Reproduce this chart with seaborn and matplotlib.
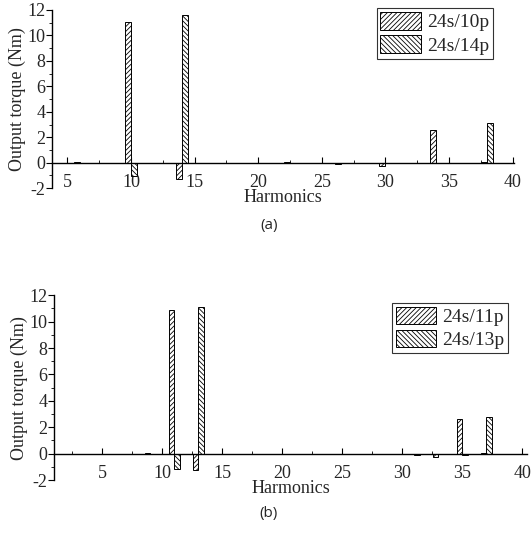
import pandas as pd
import seaborn as sns
import matplotlib.pyplot as plt
import matplotlib.patches as mpatches
from matplotlib.ticker import MultipleLocator

# Harmonic torque data
HARM_A = [6, 10, 14, 18, 22, 26, 30, 34, 38]
TORQUE_10P = [0.02, 11.07, -1.3, -0.05, -0.05, 0.0, -0.25, 2.6, 0.06]
TORQUE_14P = [-0.02, -1.05, 11.6, -0.05, 0.05, -0.1, -0.05, -0.05, 3.1]

HARM_B = [1, 3, 5, 7, 9, 11, 13, 15, 17, 19, 21, 23, 25, 27, 29, 31, 33, 35, 37, 39]
TORQUE_11P = [0.0, 0.0, 0.0, 0.0, 0.02, 10.85, -1.2, 0.0, 0.0, 0.0,
              0.0, 0.0, 0.0, 0.0, 0.0, 0.0, -0.25, 2.65, 0.03, 0.0]
TORQUE_13P = [0.0, 0.0, 0.0, 0.0, 0.0, -1.15, 11.08, -0.05, 0.0, 0.0,
              0.0, 0.0, 0.0, 0.0, 0.0, -0.1, 0.0, -0.1, 2.75, -0.05]

LABELS_A = ['24s/10p', '24s/14p']
LABELS_B = ['24s/11p', '24s/13p']
HATCHES = ['///////', '\\\\\\\\\\\\\\']

sns.set_style('ticks')
plt.rcParams['font.family'] = 'serif'
plt.rcParams['font.serif'] = ['Liberation Serif']
plt.rcParams['axes.unicode_minus'] = False
plt.rcParams['hatch.linewidth'] = 0.6
plt.rcParams['font.size'] = 13


def make_frame(harm, a, b, labels):
    rows = []
    for h, v in zip(harm, a):
        rows.append({'Harmonics': h, 'series': labels[0], 'torque': v})
    for h, v in zip(harm, b):
        rows.append({'Harmonics': h, 'series': labels[1], 'torque': v})
    return pd.DataFrame(rows)


def draw(ax, df, labels, width, xlim, legend_anchor, caption, cap_y):
    sns.barplot(data=df, x='Harmonics', y='torque', hue='series', hue_order=labels,
                native_scale=True, width=width, errorbar=None, ax=ax,
                legend=False)
    for cont, hatch in zip(ax.containers, HATCHES):
        for bar in cont:
            bar.set_facecolor('white')
            bar.set_edgecolor('black')
            bar.set_linewidth(0.7)
            bar.set_hatch(hatch)
    ax.set_xlim(*xlim)
    ax.set_ylim(-2, 12)
    ax.spines['top'].set_visible(False)
    ax.spines['right'].set_visible(False)
    ax.spines['bottom'].set_position(('data', 0))
    for s in ['left', 'bottom']:
        ax.spines[s].set_color('black')
        ax.spines[s].set_linewidth(1.0)
    ax.xaxis.set_major_locator(MultipleLocator(5))
    ax.xaxis.set_minor_locator(MultipleLocator(2.5))
    ax.yaxis.set_major_locator(MultipleLocator(2))
    ax.yaxis.set_minor_locator(MultipleLocator(1))
    ax.tick_params(axis='x', which='major', direction='in', length=4, pad=8,
                   labelsize=13, color='black')
    ax.tick_params(axis='x', which='minor', direction='in', length=2.5, color='black')
    ax.tick_params(axis='y', which='major', direction='out', length=4, pad=1,
                   labelsize=13, color='black')
    ax.tick_params(axis='y', which='minor', direction='out', length=2.5, color='black')
    ax.set_xlabel('Harmonics', fontsize=13, labelpad=-1)
    ax.set_ylabel('Output torque (Nm)', fontsize=13, labelpad=1)
    handles = [mpatches.Patch(facecolor='white', edgecolor='black', hatch=h, linewidth=0.7, label=l)
               for h, l in zip(HATCHES, labels)]
    leg = ax.legend(handles=handles, loc='upper right', bbox_to_anchor=legend_anchor,
                    frameon=True, fancybox=False, edgecolor='black', fontsize=14,
                    handlelength=2.1, handleheight=1.0, handletextpad=0.3,
                    borderpad=0.2, labelspacing=0.2, borderaxespad=0)
    leg.get_frame().set_linewidth(0.8)
    ax.figure.text(0.505, cap_y, caption, ha='center', va='center',
                   fontsize=11, family=['Open Sans', 'DejaVu Sans'])


fig = plt.figure(figsize=(5.32, 5.55), dpi=100)
ax1 = fig.add_axes([0.098, 0.661, 0.868, 0.321])
ax2 = fig.add_axes([0.102, 0.135, 0.889, 0.333])

draw(ax1, make_frame(HARM_A, TORQUE_10P, TORQUE_14P, LABELS_A), LABELS_A, 0.235,
     (3.8, 40.1), (0.955, 1.01), '(a)', 1 - 225 / 555)
draw(ax2, make_frame(HARM_B, TORQUE_11P, TORQUE_13P, LABELS_B), LABELS_B, 0.45,
     (1.0, 40.4), (0.96, 0.96), '(b)', 1 - 513 / 555)

fig.savefig('out.png', dpi=100)
